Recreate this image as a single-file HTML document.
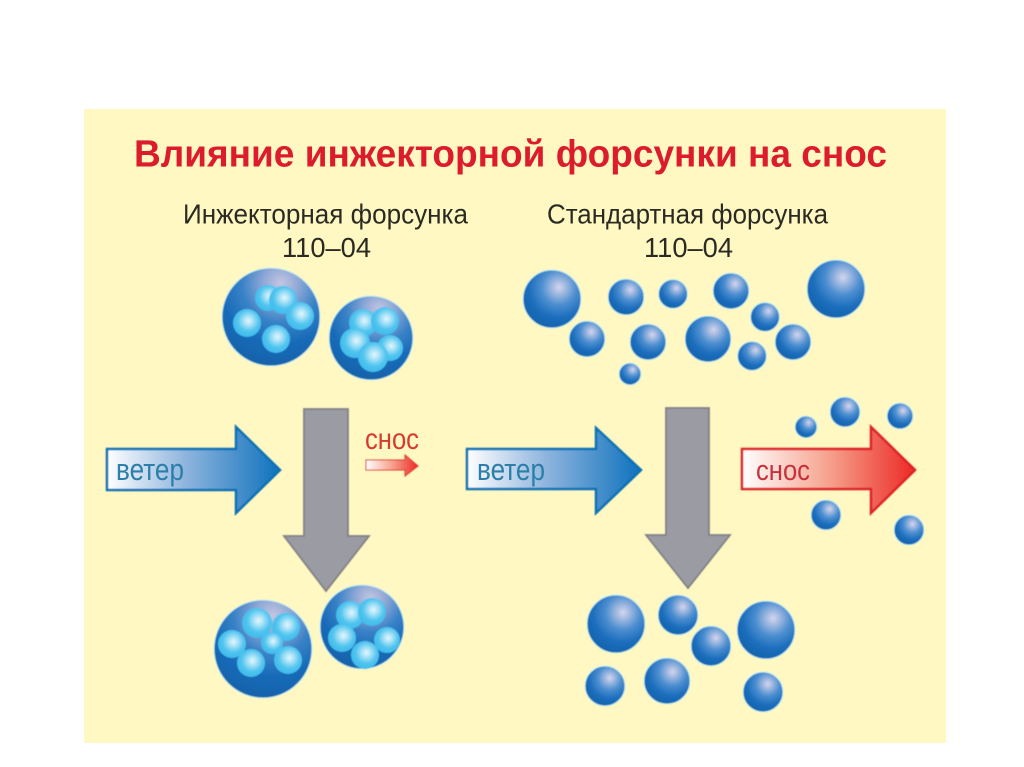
<!DOCTYPE html>
<html lang="ru">
<head>
<meta charset="utf-8">
<title>Влияние инжекторной форсунки на снос</title>
<style>
html,body{margin:0;padding:0;background:#fff;width:1024px;height:767px;overflow:hidden}
svg{display:block}
text{font-family:"Liberation Sans",Arial,Helvetica,"Noto Sans CJK SC",sans-serif}
</style>
</head>
<body>
<svg width="1024" height="767" viewBox="0 0 1024 767" xmlns="http://www.w3.org/2000/svg">
<defs>
<radialGradient id="b" cx="0.62" cy="0.3" r="0.72" fx="0.62" fy="0.3">
<stop offset="0" stop-color="#d4d6ee"/>
<stop offset="0.14" stop-color="#a9bde2"/>
<stop offset="0.42" stop-color="#4c8ed0"/>
<stop offset="0.72" stop-color="#1c6ebd"/>
<stop offset="1" stop-color="#1363ac"/>
</radialGradient>
<radialGradient id="B" cx="0.6" cy="0.16" r="0.82" fx="0.6" fy="0.16">
<stop offset="0" stop-color="#c5c6e2"/>
<stop offset="0.22" stop-color="#8ea8d6"/>
<stop offset="0.48" stop-color="#3a82c7"/>
<stop offset="0.75" stop-color="#186bb8"/>
<stop offset="1" stop-color="#1363ac"/>
</radialGradient>
<radialGradient id="s" cx="0.55" cy="0.42" r="0.55">
<stop offset="0" stop-color="#e6f6fd"/>
<stop offset="0.3" stop-color="#a8e2f7"/>
<stop offset="0.7" stop-color="#50c4ef"/>
<stop offset="1" stop-color="#42bdec"/>
</radialGradient>
<linearGradient id="wind" x1="0" x2="1" y1="0" y2="0">
<stop offset="0" stop-color="#ffffff"/>
<stop offset="0.45" stop-color="#8fb5de"/>
<stop offset="1" stop-color="#0f72bd"/>
</linearGradient>
<linearGradient id="red" x1="0" x2="1" y1="0" y2="0">
<stop offset="0" stop-color="#ffffff"/>
<stop offset="0.5" stop-color="#f6a28e"/>
<stop offset="1" stop-color="#ec2a26"/>
</linearGradient>
<filter id="soft" x="-5%" y="-5%" width="110%" height="110%"><feGaussianBlur stdDeviation="0.5"/></filter>
</defs>

<rect x="84" y="109" width="862" height="634" fill="#fff8c2"/>

<text x="134" y="166.5" font-size="38" font-weight="700" fill="#dc1c2c" textLength="753" lengthAdjust="spacingAndGlyphs">Влияние инжекторной форсунки на снос</text>
<g fill="#2b2a22" font-size="28">
<text x="183" y="223.5" textLength="285" lengthAdjust="spacingAndGlyphs">Инжекторная форсунка</text>
<text x="282" y="257" textLength="89" lengthAdjust="spacingAndGlyphs">110–04</text>
<text x="547" y="223.5" textLength="281" lengthAdjust="spacingAndGlyphs">Стандартная форсунка</text>
<text x="644" y="257" textLength="89" lengthAdjust="spacingAndGlyphs">110–04</text>
</g>

<g filter="url(#soft)">
<!-- big droplets -->
<g stroke="#c8f0f4" stroke-width="1">
<circle cx="271" cy="317" r="49" fill="url(#B)"/>
<circle cx="371" cy="338" r="42" fill="url(#B)"/>
<circle cx="263" cy="649" r="49" fill="url(#B)"/>
<circle cx="362" cy="627" r="42" fill="url(#B)"/>
</g>
<g fill="url(#s)">
<circle cx="268" cy="298" r="13"/><circle cx="283" cy="300" r="14"/><circle cx="300" cy="316" r="14"/><circle cx="247" cy="323" r="14"/><circle cx="276" cy="339" r="14"/>
<circle cx="363" cy="323" r="14"/><circle cx="385" cy="321" r="14"/><circle cx="355" cy="343" r="15"/><circle cx="390" cy="348" r="13"/><circle cx="373" cy="357" r="15"/>
<circle cx="257" cy="623" r="15"/><circle cx="286" cy="627" r="14"/><circle cx="232" cy="644" r="14"/><circle cx="272" cy="643" r="11"/><circle cx="251" cy="663" r="14"/><circle cx="288" cy="660" r="14"/>
<circle cx="350" cy="615" r="14"/><circle cx="372" cy="612" r="14"/><circle cx="342" cy="638" r="14"/><circle cx="387" cy="640" r="13"/><circle cx="365" cy="655" r="14"/>
</g>

<!-- plain droplets -->
<g fill="url(#b)" stroke="#c8f0f4" stroke-width="1">
<circle cx="552" cy="299" r="29"/><circle cx="626" cy="297" r="18"/><circle cx="673" cy="294" r="14.5"/><circle cx="731" cy="291" r="18"/><circle cx="836" cy="289" r="29"/>
<circle cx="765" cy="317" r="14.5"/><circle cx="587" cy="339" r="18"/><circle cx="648" cy="342" r="18"/><circle cx="708" cy="339" r="23"/><circle cx="752" cy="356" r="14.5"/><circle cx="793" cy="342" r="18"/><circle cx="630" cy="374" r="11"/>
<circle cx="806" cy="427" r="11"/><circle cx="845" cy="412" r="15"/><circle cx="900" cy="416" r="13"/><circle cx="826" cy="515" r="15"/><circle cx="909" cy="530" r="15"/>
<circle cx="616" cy="624" r="29"/><circle cx="678" cy="615" r="20"/><circle cx="711" cy="646" r="20"/><circle cx="766" cy="630" r="29"/><circle cx="605" cy="686" r="20"/><circle cx="667" cy="681" r="23"/><circle cx="763" cy="692" r="20"/>
</g>

<!-- grey arrows -->
<path d="M304 409H348V536H369L326 591L284 536H304Z" fill="#9a9ba3" stroke="#828287" stroke-width="1.8"/>
<path d="M666 408H709V535H730L688 588L646 535H666Z" fill="#9a9ba3" stroke="#828287" stroke-width="1.8"/>

<!-- wind arrows -->
<path d="M107 449H236V427L280 470L236 513V490H107Z" fill="url(#wind)" stroke="#0f72b5" stroke-width="2.5"/>
<path d="M467 449H596V428L641 470L596 513V489H467Z" fill="url(#wind)" stroke="#0f72b5" stroke-width="2.5"/>

<!-- drift arrows -->
<path d="M742 449H871V427L915 470L871 513V489H742Z" fill="url(#red)" stroke="#de2226" stroke-width="2.5"/>
<path d="M366 460H405V455L418 466L405 476V470H366Z" fill="url(#red)" stroke="#e2352c" stroke-width="1"/>
</g>

<g font-size="31" fill="#2c7fa8">
<text x="116" y="480" textLength="68" lengthAdjust="spacingAndGlyphs">ветер</text>
<text x="477" y="480" textLength="68" lengthAdjust="spacingAndGlyphs">ветер</text>
</g>
<text x="756" y="480" font-size="29" fill="#c8303c" textLength="54" lengthAdjust="spacingAndGlyphs">снос</text>
<text x="365" y="449" font-size="30" fill="#d93a30" textLength="54" lengthAdjust="spacingAndGlyphs">снос</text>
</svg>
</body>
</html>
